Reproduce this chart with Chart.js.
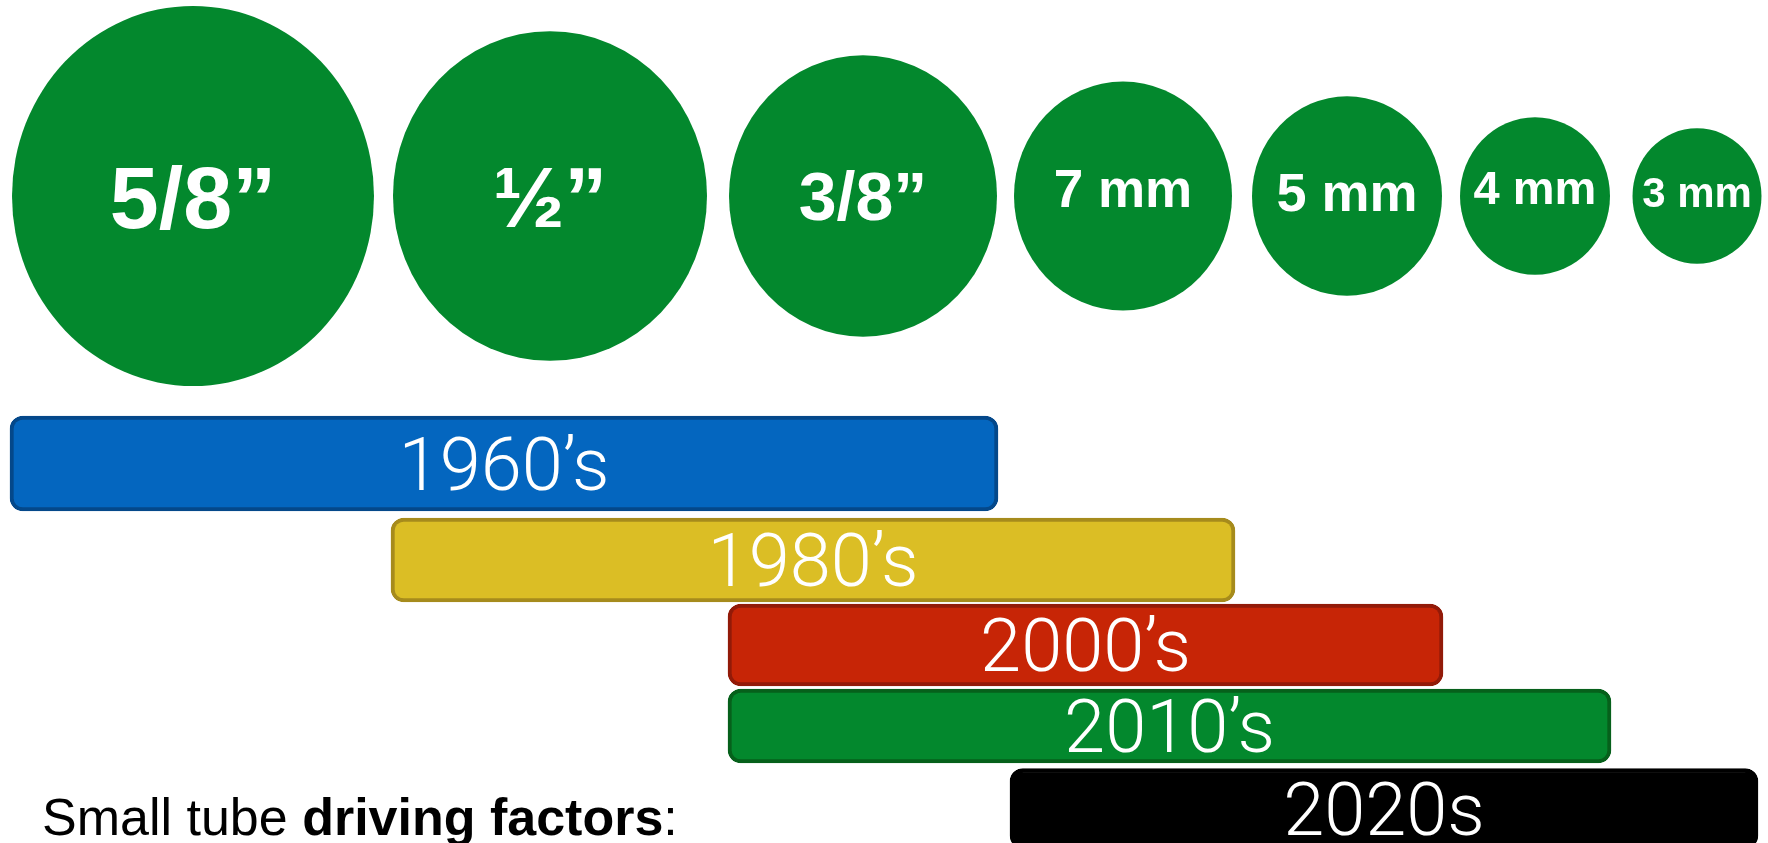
<!DOCTYPE html>
<html>
<head>
<meta charset="utf-8">
<script src="https://cdn.jsdelivr.net/npm/chart.js@4.4.1/dist/chart.umd.min.js"></script>
<style>
  html, body { margin: 0; padding: 0; background: #ffffff; overflow: hidden; }
  #wrap { width: 1768px; height: 843px; position: relative; }
  canvas { display: block; }
</style>
</head>
<body>
<div id="wrap"><canvas id="c" width="1768" height="843"></canvas></div>
<script>
// ---- data ----
const tubeLabels = ["5/8\u201D", "\u00BD\u201D", "3/8\u201D", "7 mm", "5 mm", "4 mm", "3 mm"];
const tubeX      = [193, 550, 863, 1123, 1347, 1535, 1697];
const tubeY      = [196, 196, 196, 196, 196, 196, 196];
const tubeSize   = [181, 157, 134, 109, 95, 75, 64.5];

const decades    = ["1960\u2019s", "1980\u2019s", "2000\u2019s", "2010\u2019s", "2020s"];
const barStart   = [10, 391, 728, 728, 1010];
const barEnd     = [998, 1235, 1443, 1611, 1758];
const rowValue   = [463.5, 560, 645, 726, 808.5];

const footerRegular = "Small tube ";
const footerBold    = "driving factors";
const footerEnd     = ":";

// ---- styles ----
const tubeFill     = "#03882D";
const tubeStretch  = 1.05;   // bubbles are drawn slightly taller than wide
const tubeFont     = [88, 86, 68, 53, 54, 47, 42];
const tubeTextDy   = [0, 0, 0, -8, -4, -9, -4];
const barFill      = ["#0466BF", "#DBBE25", "#C72506", "#03882D", "#000000"];
const barBorder    = ["#04488A", "#A68B1C", "#921A08", "#06601B", "#000000"];
const barThick     = [95, 84, 82, 74, 80];

const datasets = [{
  type: "bubble",
  label: "tubes",
  data: tubeX.map((x, i) => ({ x: x, y: tubeY[i], r: tubeSize[i] })),
  backgroundColor: tubeFill,
  borderWidth: 0,
  hoverBorderWidth: 0,
  clip: false,
  order: 1
}];
decades.forEach((d, i) => {
  datasets.push({
    type: "bar",
    label: d,
    indexAxis: "y",
    data: [{ x: [barStart[i], barEnd[i]], y: rowValue[i] }],
    backgroundColor: barFill[i],
    borderColor: barBorder[i],
    borderWidth: 4,
    borderRadius: 13,
    borderSkipped: false,
    barThickness: barThick[i],
    grouped: false,
    order: 0
  });
});

const stretchPlugin = {
  id: "stretch",
  beforeDatasetDraw(chart, args) {
    if (args.index !== 0) return;
    const ctx = chart.ctx;
    const cy = chart.scales.y.getPixelForValue(tubeY[0]);
    ctx.save();
    ctx.translate(0, cy);
    ctx.scale(1, tubeStretch);
    ctx.translate(0, -cy);
  },
  afterDatasetDraw(chart, args) {
    if (args.index !== 0) return;
    chart.ctx.restore();
  }
};

const labelPlugin = {
  id: "labels",
  afterDatasetsDraw(chart) {
    const ctx = chart.ctx;
    ctx.save();
    ctx.fillStyle = "#ffffff";
    ctx.textAlign = "center";
    // tube labels
    const tm = chart.getDatasetMeta(0);
    tm.data.forEach((pt, i) => {
      const fs = tubeFont[i];
      ctx.font = "bold " + fs + "px 'Liberation Sans', Arial, sans-serif";
      ctx.textBaseline = "alphabetic";
      ctx.fillText(tubeLabels[i], pt.x, pt.y + fs * 0.358 + tubeTextDy[i]);
    });
    // decade labels
    decades.forEach((d, i) => {
      const el = chart.getDatasetMeta(i + 1).data[0];
      const cx = (el.x + el.base) / 2;
      ctx.font = "300 74px Roboto, 'Open Sans', sans-serif";
      ctx.textBaseline = "alphabetic";
      ctx.fillText(d, cx, el.y + 74 * 0.711 / 2);
    });
    // footer text
    ctx.fillStyle = "#000000";
    ctx.textAlign = "left";
    let x = 42;
    const base = 835;
    ctx.font = "52px 'Liberation Sans', Arial, sans-serif";
    ctx.fillText(footerRegular, x, base);
    x += ctx.measureText(footerRegular).width;
    ctx.font = "bold 52px 'Liberation Sans', Arial, sans-serif";
    ctx.fillText(footerBold, x, base);
    x += ctx.measureText(footerBold).width;
    ctx.font = "52px 'Liberation Sans', Arial, sans-serif";
    ctx.fillText(footerEnd, x, base);
    ctx.restore();
  }
};

new Chart(document.getElementById("c"), {
  type: "bubble",
  data: { datasets: datasets },
  options: {
    responsive: false,
    animation: false,
    events: [],
    layout: { padding: 0, autoPadding: false },
    plugins: { legend: { display: false }, tooltip: { enabled: false } },
    scales: {
      x: { type: "linear", min: 0, max: 1768, offset: false, display: false },
      y: { type: "linear", min: 0, max: 843, reverse: true, offset: false, display: false }
    }
  },
  plugins: [stretchPlugin, labelPlugin]
});
</script>
</body>
</html>
